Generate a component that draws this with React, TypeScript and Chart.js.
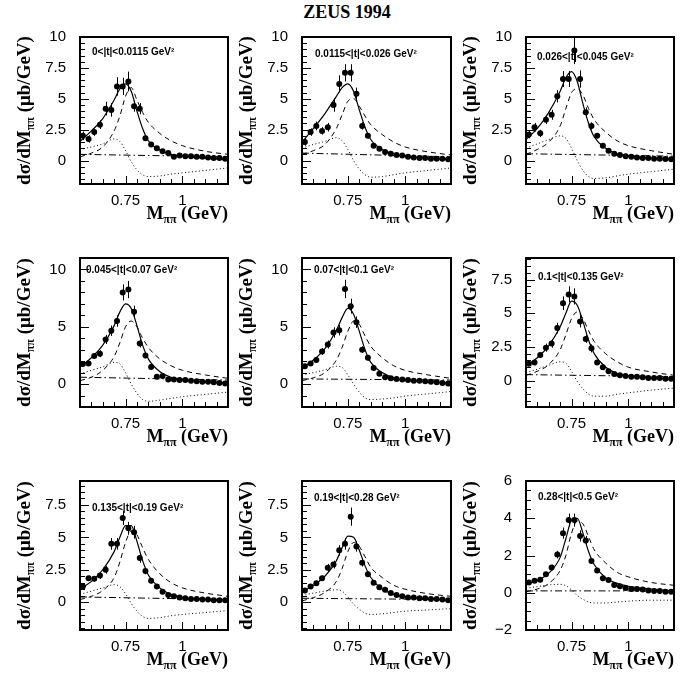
import React, { useEffect, useRef } from "react";
import { Chart, registerables } from "chart.js";
Chart.register(...registerables);

// ---------- shared data ----------
const MASS = [0.5625, 0.5875, 0.6125, 0.6375, 0.6625, 0.6875, 0.7125, 0.7375, 0.7625, 0.7875, 0.8125, 0.8375, 0.8625, 0.8875, 0.9125, 0.9375, 0.9625, 0.9875, 1.0125, 1.0375, 1.0625, 1.0875, 1.1125, 1.1375, 1.1625, 1.1875];
const CURVE_M = [0.55, 0.6, 0.65, 0.7, 0.725, 0.75, 0.775, 0.8, 0.825, 0.85, 0.9, 0.95, 1.0, 1.1, 1.2];
const BG_M = [0.55, 1.2];
const X_TICKS = [0.75, 1];
const X_TICK_LABELS = ["0.75", "1"];

// ---------- panel 1 ----------
const P1_LABEL = "0<|t|<0.0115 GeV²";
const P1_Y = [2.0, 1.75, 2.3, 2.9, 4.2, 4.1, 6.0, 6.0, 6.4, 4.4, 4.2, 1.8, 1.3, 1.0, 0.75, 0.6, 0.3, 0.4, 0.35, 0.35, 0.3, 0.3, 0.25, 0.2, 0.2, 0.15];
const P1_ERR = [0.35, 0.3, 0.3, 0.35, 0.55, 0.55, 0.75, 0.7, 0.8, 0.45, 0.45, 0.2, 0.15, 0.12, 0.1, 0.1, 0.08, 0.08, 0.08, 0.07, 0.07, 0.07, 0.06, 0.06, 0.06, 0.05];
const P1_FIT = [1.55, 2.4, 3.4, 4.9, 5.8, 6.2, 5.6, 4.0, 2.6, 1.6, 0.85, 0.5, 0.35, 0.2, 0.1];
const P1_BW = [0.3, 0.6, 1.1, 2.4, 3.6, 5.2, 5.9, 4.9, 3.9, 3.1, 2.2, 1.6, 1.2, 0.75, 0.5];
const P1_INT = [0.9, 1.1, 1.35, 1.75, 1.55, 0.8, -0.1, -0.75, -1.15, -1.3, -1.25, -1.1, -1.0, -0.8, -0.6];
const P1_BG = [0.5, 0.3];
const P1_YTICKS = [0, 2.5, 5, 7.5, 10];
const P1_YLABELS = ["0", "2.5", "5", "7.5", "10"];

// ---------- panel 2 ----------
const P2_LABEL = "0.0115<|t|<0.026 GeV²";
const P2_Y = [1.5, 2.3, 2.8, 2.4, 2.7, 4.5, 6.2, 7.1, 7.1, 5.4, 2.8, 2.0, 1.2, 0.95, 0.7, 0.55, 0.45, 0.4, 0.3, 0.25, 0.2, 0.2, 0.15, 0.15, 0.15, 0.1];
const P2_ERR = [0.3, 0.3, 0.35, 0.3, 0.35, 0.55, 0.7, 0.7, 0.7, 0.5, 0.3, 0.2, 0.15, 0.12, 0.1, 0.1, 0.08, 0.08, 0.08, 0.07, 0.07, 0.07, 0.06, 0.06, 0.06, 0.05];
const P2_FIT = [1.5, 2.6, 3.8, 5.2, 5.9, 6.2, 5.6, 4.1, 2.7, 1.7, 0.9, 0.55, 0.35, 0.2, 0.1];
const P2_BW = [0.5, 0.8, 1.3, 2.6, 3.7, 4.8, 5.0, 4.4, 3.6, 2.9, 2.1, 1.5, 1.1, 0.7, 0.45];
const P2_INT = [1.0, 1.3, 1.55, 1.85, 1.6, 0.9, 0.0, -0.7, -1.15, -1.35, -1.3, -1.15, -1.0, -0.8, -0.6];
const P2_BG = [0.6, 0.3];
const P2_YTICKS = [0, 2.5, 5, 7.5, 10];
const P2_YLABELS = ["0", "2.5", "5", "7.5", "10"];

// ---------- panel 3 ----------
const P3_LABEL = "0.026<|t|<0.045 GeV²";
const P3_Y = [2.1, 2.7, 2.2, 3.3, 3.7, 5.2, 6.6, 6.6, 8.9, 6.6, 3.9, 2.8, 2.0, 1.2, 0.8, 0.55, 0.45, 0.35, 0.3, 0.25, 0.2, 0.2, 0.15, 0.15, 0.12, 0.1];
const P3_ERR = [0.3, 0.35, 0.3, 0.35, 0.4, 0.5, 0.65, 0.65, 1.1, 0.7, 0.4, 0.3, 0.2, 0.15, 0.1, 0.1, 0.08, 0.08, 0.08, 0.07, 0.07, 0.07, 0.06, 0.06, 0.06, 0.05];
const P3_FIT = [1.7, 2.6, 3.9, 5.6, 6.7, 7.2, 6.4, 4.6, 3.0, 1.9, 1.0, 0.55, 0.35, 0.2, 0.1];
const P3_BW = [0.5, 0.9, 1.5, 2.8, 4.2, 5.5, 5.8, 5.3, 4.2, 3.3, 2.3, 1.6, 1.2, 0.8, 0.5];
const P3_INT = [1.0, 1.35, 1.7, 2.0, 1.8, 1.0, 0.0, -0.8, -1.3, -1.45, -1.4, -1.25, -1.1, -0.9, -0.7];
const P3_BG = [0.55, 0.35];
const P3_YTICKS = [0, 2.5, 5, 7.5, 10];
const P3_YLABELS = ["0", "2.5", "5", "7.5", "10"];

// ---------- panel 4 ----------
const P4_LABEL = "0.045<|t|<0.07 GeV²";
const P4_Y = [1.75, 1.8, 2.45, 2.65, 3.9, 4.65, 5.5, 8.0, 8.25, 6.3, 3.55, 2.5, 1.5, 0.65, 0.7, 0.4, 0.4, 0.35, 0.35, 0.3, 0.25, 0.2, 0.2, 0.15, 0.1, 0.05];
const P4_ERR = [0.2, 0.2, 0.25, 0.3, 0.4, 0.45, 0.5, 0.7, 0.75, 0.55, 0.35, 0.25, 0.15, 0.2, 0.12, 0.1, 0.08, 0.08, 0.08, 0.07, 0.07, 0.07, 0.06, 0.06, 0.06, 0.05];
const P4_FIT = [1.5, 2.3, 3.4, 5.1, 6.3, 7.0, 6.6, 5.1, 3.4, 2.2, 1.1, 0.6, 0.4, 0.2, 0.1];
const P4_BW = [0.3, 0.6, 1.2, 2.4, 3.6, 5.0, 5.5, 5.0, 4.0, 3.2, 2.2, 1.6, 1.2, 0.8, 0.5];
const P4_INT = [0.9, 1.2, 1.5, 1.9, 1.75, 1.0, 0.0, -0.8, -1.35, -1.5, -1.4, -1.25, -1.1, -0.9, -0.7];
const P4_BG = [0.6, 0.35];
const P4_YTICKS = [0, 5, 10];
const P4_YLABELS = ["0", "5", "10"];

// ---------- panel 5 ----------
const P5_LABEL = "0.07<|t|<0.1 GeV²";
const P5_Y = [1.55, 1.8, 2.1, 2.85, 3.45, 4.5, 4.7, 8.3, 6.8, 5.4, 3.0, 2.3, 1.4, 0.9, 0.6, 0.5, 0.45, 0.4, 0.35, 0.3, 0.3, 0.25, 0.2, 0.15, 0.1, 0.05];
const P5_ERR = [0.2, 0.2, 0.25, 0.3, 0.35, 0.45, 0.45, 0.8, 0.65, 0.5, 0.3, 0.25, 0.15, 0.12, 0.1, 0.1, 0.08, 0.08, 0.08, 0.07, 0.07, 0.07, 0.06, 0.06, 0.06, 0.05];
const P5_FIT = [1.4, 2.1, 3.1, 4.7, 5.8, 6.6, 6.1, 4.6, 3.0, 1.9, 1.0, 0.55, 0.35, 0.2, 0.1];
const P5_BW = [0.3, 0.55, 1.0, 2.1, 3.2, 4.6, 5.5, 5.2, 4.2, 3.3, 2.3, 1.6, 1.2, 0.8, 0.5];
const P5_INT = [0.8, 1.0, 1.25, 1.55, 1.45, 0.8, 0.0, -0.7, -1.2, -1.35, -1.3, -1.2, -1.05, -0.85, -0.65];
const P5_BG = [0.45, 0.35];
const P5_YTICKS = [0, 5, 10];
const P5_YLABELS = ["0", "5", "10"];

// ---------- panel 6 ----------
const P6_LABEL = "0.1<|t|<0.135 GeV²";
const P6_Y = [1.25, 1.35, 1.9, 2.45, 2.75, 3.9, 5.75, 6.4, 6.25, 4.4, 3.1, 2.4, 1.35, 1.0, 0.7, 0.5, 0.4, 0.35, 0.3, 0.3, 0.25, 0.2, 0.2, 0.2, 0.15, 0.15];
const P6_ERR = [0.15, 0.2, 0.2, 0.3, 0.3, 0.4, 0.5, 0.6, 0.6, 0.45, 0.3, 0.3, 0.15, 0.12, 0.1, 0.1, 0.08, 0.08, 0.08, 0.07, 0.07, 0.07, 0.06, 0.06, 0.06, 0.05];
const P6_FIT = [1.1, 1.7, 2.6, 4.0, 5.0, 5.9, 5.6, 4.4, 3.0, 2.0, 1.0, 0.55, 0.35, 0.2, 0.1];
const P6_BW = [0.4, 0.7, 1.2, 2.3, 3.4, 4.6, 5.1, 4.6, 3.7, 2.9, 2.0, 1.4, 1.0, 0.65, 0.4];
const P6_INT = [0.6, 0.85, 1.15, 1.4, 1.3, 0.7, -0.05, -0.6, -1.0, -1.15, -1.15, -1.0, -0.9, -0.7, -0.55];
const P6_BG = [0.45, 0.3];
const P6_YTICKS = [0, 2.5, 5, 7.5];
const P6_YLABELS = ["0", "2.5", "5", "7.5"];

// ---------- panel 7 ----------
const P7_LABEL = "0.135<|t|<0.19 GeV²";
const P7_Y = [1.2, 1.85, 1.8, 2.05, 2.5, 4.5, 4.5, 6.5, 5.7, 5.4, 3.4, 2.4, 1.65, 1.2, 0.8, 0.55, 0.45, 0.35, 0.3, 0.25, 0.25, 0.2, 0.2, 0.15, 0.15, 0.15];
const P7_ERR = [0.15, 0.2, 0.2, 0.25, 0.3, 0.45, 0.45, 0.55, 0.5, 0.5, 0.35, 0.25, 0.2, 0.15, 0.1, 0.1, 0.08, 0.08, 0.08, 0.07, 0.07, 0.07, 0.06, 0.06, 0.06, 0.05];
const P7_FIT = [1.0, 1.6, 2.5, 3.9, 5.0, 5.9, 5.9, 4.7, 3.2, 2.1, 1.1, 0.6, 0.35, 0.2, 0.1];
const P7_BW = [0.2, 0.45, 0.9, 1.9, 3.1, 4.6, 5.5, 5.2, 4.2, 3.3, 2.2, 1.5, 1.1, 0.7, 0.45];
const P7_INT = [0.6, 0.85, 1.1, 1.35, 1.2, 0.65, -0.1, -0.7, -1.1, -1.25, -1.2, -1.05, -0.95, -0.8, -0.65];
const P7_BG = [0.4, 0.2];
const P7_YTICKS = [0, 2.5, 5, 7.5];
const P7_YLABELS = ["0", "2.5", "5", "7.5"];

// ---------- panel 8 ----------
const P8_LABEL = "0.19<|t|<0.28 GeV²";
const P8_Y = [0.9, 1.2, 1.45, 1.85, 2.65, 2.9, 4.0, 4.5, 6.6, 4.3, 3.05, 2.15, 1.5, 1.15, 0.95, 0.7, 0.55, 0.45, 0.35, 0.35, 0.3, 0.3, 0.25, 0.25, 0.2, 0.15];
const P8_ERR = [0.12, 0.15, 0.15, 0.2, 0.3, 0.3, 0.4, 0.45, 0.7, 0.4, 0.3, 0.2, 0.15, 0.1, 0.1, 0.1, 0.08, 0.08, 0.08, 0.07, 0.07, 0.07, 0.06, 0.06, 0.06, 0.05];
const P8_FIT = [0.8, 1.3, 2.0, 3.2, 4.2, 5.1, 5.0, 4.0, 2.8, 1.9, 1.0, 0.6, 0.4, 0.25, 0.15];
const P8_BW = [0.1, 0.35, 0.75, 1.6, 2.6, 3.9, 4.6, 4.3, 3.5, 2.7, 1.9, 1.3, 1.0, 0.65, 0.45];
const P8_INT = [0.5, 0.7, 0.85, 0.95, 0.85, 0.4, -0.15, -0.55, -0.85, -0.95, -0.9, -0.8, -0.7, -0.6, -0.5];
const P8_BG = [0.3, 0.2];
const P8_YTICKS = [0, 2.5, 5, 7.5];
const P8_YLABELS = ["0", "2.5", "5", "7.5"];

// ---------- panel 9 ----------
const P9_LABEL = "0.28<|t|<0.5 GeV²";
const P9_Y = [0.55, 0.65, 0.7, 1.0, 1.35, 2.05, 3.2, 3.9, 3.9, 3.05, 2.8, 1.7, 1.2, 0.78, 0.68, 0.42, 0.35, 0.25, 0.2, 0.2, 0.18, 0.12, 0.1, 0.1, 0.06, 0.05];
const P9_ERR = [0.08, 0.1, 0.1, 0.12, 0.15, 0.2, 0.3, 0.35, 0.35, 0.3, 0.25, 0.15, 0.12, 0.1, 0.08, 0.07, 0.06, 0.06, 0.05, 0.05, 0.05, 0.05, 0.05, 0.05, 0.05, 0.05];
const P9_FIT = [0.45, 0.65, 1.05, 1.9, 2.9, 3.9, 4.0, 3.2, 2.2, 1.5, 0.8, 0.5, 0.35, 0.2, 0.1];
const P9_BW = [0.05, 0.2, 0.5, 1.2, 2.0, 3.2, 3.85, 3.7, 3.0, 2.3, 1.6, 1.1, 0.85, 0.55, 0.4];
const P9_INT = [0.25, 0.33, 0.42, 0.45, 0.38, 0.15, -0.15, -0.35, -0.5, -0.55, -0.55, -0.5, -0.45, -0.4, -0.4];
const P9_BG = [0.1, 0.1];
const P9_YTICKS = [-2, 0, 2, 4, 6];
const P9_YLABELS = ["−2", "0", "2", "4", "6"];

// ---------- layout (styles, not data) ----------
const FRAME_L = [80, 302, 526];
const FRAME_W = [148, 149, 148];
const FRAME_T = [37, 258, 481];
const FRAME_H = [147, 149, 149];

type Panel = {
  label: string; y: number[]; err: number[]; fit: number[]; bw: number[]; intf: number[]; bg: number[];
  yticks: number[]; ylabels: string[]; ymin: number; ymax: number; minor: number;
  col: number; row: number; ldx: number; ldy: number;
};

const PANELS: Panel[] = [
  { label: P1_LABEL, y: P1_Y, err: P1_ERR, fit: P1_FIT, bw: P1_BW, intf: P1_INT, bg: P1_BG, yticks: P1_YTICKS, ylabels: P1_YLABELS, ymin: -1.9, ymax: 10, minor: 0.5, col: 0, row: 0, ldx: 12, ldy: 15 },
  { label: P2_LABEL, y: P2_Y, err: P2_ERR, fit: P2_FIT, bw: P2_BW, intf: P2_INT, bg: P2_BG, yticks: P2_YTICKS, ylabels: P2_YLABELS, ymin: -1.9, ymax: 10, minor: 0.5, col: 1, row: 0, ldx: 13, ldy: 17 },
  { label: P3_LABEL, y: P3_Y, err: P3_ERR, fit: P3_FIT, bw: P3_BW, intf: P3_INT, bg: P3_BG, yticks: P3_YTICKS, ylabels: P3_YLABELS, ymin: -1.9, ymax: 10, minor: 0.5, col: 2, row: 0, ldx: 11, ldy: 20 },
  { label: P4_LABEL, y: P4_Y, err: P4_ERR, fit: P4_FIT, bw: P4_BW, intf: P4_INT, bg: P4_BG, yticks: P4_YTICKS, ylabels: P4_YLABELS, ymin: -2, ymax: 11, minor: 1, col: 0, row: 1, ldx: 6, ldy: 12 },
  { label: P5_LABEL, y: P5_Y, err: P5_ERR, fit: P5_FIT, bw: P5_BW, intf: P5_INT, bg: P5_BG, yticks: P5_YTICKS, ylabels: P5_YLABELS, ymin: -2, ymax: 11, minor: 1, col: 1, row: 1, ldx: 12, ldy: 12 },
  { label: P6_LABEL, y: P6_Y, err: P6_ERR, fit: P6_FIT, bw: P6_BW, intf: P6_INT, bg: P6_BG, yticks: P6_YTICKS, ylabels: P6_YLABELS, ymin: -1.95, ymax: 9.1, minor: 0.5, col: 2, row: 1, ldx: 12, ldy: 19 },
  { label: P7_LABEL, y: P7_Y, err: P7_ERR, fit: P7_FIT, bw: P7_BW, intf: P7_INT, bg: P7_BG, yticks: P7_YTICKS, ylabels: P7_YLABELS, ymin: -2.15, ymax: 9.35, minor: 0.5, col: 0, row: 2, ldx: 12, ldy: 27 },
  { label: P8_LABEL, y: P8_Y, err: P8_ERR, fit: P8_FIT, bw: P8_BW, intf: P8_INT, bg: P8_BG, yticks: P8_YTICKS, ylabels: P8_YLABELS, ymin: -2.15, ymax: 9.35, minor: 0.5, col: 1, row: 2, ldx: 12, ldy: 17 },
  { label: P9_LABEL, y: P9_Y, err: P9_ERR, fit: P9_FIT, bw: P9_BW, intf: P9_INT, bg: P9_BG, yticks: P9_YTICKS, ylabels: P9_YLABELS, ymin: -2, ymax: 6, minor: 0.5, col: 2, row: 2, ldx: 12, ldy: 16 },
];

const PAD_L = 22, AXIS_W = 50, PAD_T = 14, PAD_R = 8, AXIS_H = 44;
const SERIF = "'Liberation Serif', 'Times New Roman', serif";
const SANS = "'Liberation Sans', Arial, sans-serif";

function drawSubText(ctx: CanvasRenderingContext2D, parts: { t: string; sub?: boolean }[], x: number, y: number, align: "center" | "right", size: number) {
  const main = `bold ${size}px ${SERIF}`;
  const sub = `bold ${Math.round(size * 0.65)}px ${SERIF}`;
  let total = 0;
  const widths = parts.map((p) => { ctx.font = p.sub ? sub : main; const w = ctx.measureText(p.t).width; total += w; return w; });
  let cx = align === "center" ? x - total / 2 : x - total;
  ctx.textAlign = "left";
  ctx.textBaseline = "alphabetic";
  parts.forEach((p, i) => {
    ctx.font = p.sub ? sub : main;
    ctx.fillText(p.t, cx, p.sub ? y + 4 : y);
    cx += widths[i];
  });
}

function drawFrame(chart: any, p: Panel) {
  const { ctx, scales, chartArea } = chart;
  const xs = scales.x, ys = scales.y;
  const L = Math.round(chartArea.left), R = Math.round(chartArea.right);
  const T = Math.round(chartArea.top), B = Math.round(chartArea.bottom);
  ctx.save();
  ctx.fillStyle = "#000";
  ctx.fillRect(L - 1, T - 1, R - L + 2, 2);
  ctx.fillRect(L - 1, B - 1, R - L + 2, 2);
  ctx.fillRect(L - 1, T - 1, 2, B - T + 2);
  ctx.fillRect(R - 1, T - 1, 2, B - T + 2);
  for (let k = Math.ceil(p.ymin / p.minor - 1e-9); k * p.minor <= p.ymax + 1e-9; k++) {
    const v = k * p.minor;
    const major = p.yticks.some((t) => Math.abs(t - v) < 1e-6);
    const py = Math.round(ys.getPixelForValue(v));
    ctx.fillRect(L, py, major ? 9 : 5, 1);
  }
  for (let k = 11; k <= 24; k++) {
    const v = k * 0.05;
    const major = X_TICKS.some((t) => Math.abs(t - v) < 1e-6);
    const px = Math.round(xs.getPixelForValue(v));
    const len = major ? 8 : 5;
    ctx.fillRect(px, B - len, 1, len);
  }
  ctx.restore();
}

function PanelChart({ p }: { p: Panel }) {
  const ref = useRef<HTMLCanvasElement | null>(null);
  const fl = FRAME_L[p.col], fw = FRAME_W[p.col], ft = FRAME_T[p.row], fh = FRAME_H[p.row];
  const cw = fw + PAD_L + AXIS_W + PAD_R;
  const chh = fh + PAD_T + AXIS_H;
  const left = fl - PAD_L - AXIS_W;
  const top = ft - PAD_T;

  useEffect(() => {
    if (!ref.current) return;
    const plugin = {
      id: "zeusPanel",
      beforeDatasetsDraw(chart: any) {
        const { ctx, scales, chartArea } = chart;
        const xs = scales.x, ys = scales.y;
        drawFrame(chart, p);
        ctx.save();
        ctx.fillStyle = "#000";
        p.y.forEach((v, i) => {
          const px = Math.round(xs.getPixelForValue(MASS[i]));
          const y1 = Math.max(chartArea.top, ys.getPixelForValue(v + p.err[i]));
          const y2 = Math.min(chartArea.bottom, ys.getPixelForValue(v - p.err[i]));
          ctx.fillRect(px, y1, 1, y2 - y1);
        });
        ctx.font = `bold 10px ${SANS}`;
        ctx.textAlign = "left";
        ctx.textBaseline = "middle";
        ctx.fillText(p.label, chartArea.left + p.ldx, chartArea.top + p.ldy);
        ctx.restore();
      },
      afterDraw(chart: any) {
        const { ctx, chartArea } = chart;
        const L = chartArea.left, R = chartArea.right, T = chartArea.top, B = chartArea.bottom;
        ctx.save();
        ctx.fillStyle = "#000";
        drawSubText(ctx, [{ t: "M" }, { t: "ππ", sub: true }, { t: " (GeV)" }], R, B + 35, "right", 18);
        ctx.translate(L - 56, (T + B) / 2);
        ctx.rotate(-Math.PI / 2);
        drawSubText(ctx, [{ t: "dσ/dM" }, { t: "ππ", sub: true }, { t: " (μb/GeV)" }], 0, 6, "center", 19);
        ctx.restore();
      },
    };

    const chart = new Chart(ref.current, {
      type: "line",
      data: {
        datasets: [
          {
            data: MASS.map((m, i) => ({ x: m, y: p.y[i] })),
            showLine: false,
            pointRadius: 3,
            pointBackgroundColor: "#000",
            pointBorderColor: "#000",
            pointBorderWidth: 0,
          },
          {
            data: CURVE_M.map((m, i) => ({ x: m, y: p.fit[i] })),
            borderColor: "#000",
            borderWidth: 1.2,
            pointRadius: 0,
            cubicInterpolationMode: "monotone",
          },
          {
            data: CURVE_M.map((m, i) => ({ x: m, y: p.bw[i] })),
            borderColor: "#000",
            borderWidth: 1,
            borderDash: [5, 4],
            pointRadius: 0,
            cubicInterpolationMode: "monotone",
          },
          {
            data: CURVE_M.map((m, i) => ({ x: m, y: p.intf[i] })),
            borderColor: "#000",
            borderWidth: 1,
            borderDash: [1, 2.5],
            pointRadius: 0,
            cubicInterpolationMode: "monotone",
          },
          {
            data: BG_M.map((m, i) => ({ x: m, y: p.bg[i] })),
            borderColor: "#000",
            borderWidth: 1,
            borderDash: [7, 3, 1.5, 3],
            pointRadius: 0,
          },
        ],
      } as any,
      options: {
        animation: false,
        responsive: false,
        events: [],
        layout: { padding: { left: PAD_L, top: PAD_T, right: PAD_R, bottom: 0 } },
        plugins: { legend: { display: false }, tooltip: { enabled: false } },
        scales: {
          x: {
            type: "linear",
            min: 0.55,
            max: 1.2,
            grid: { display: false, drawTicks: false },
            border: { display: false },
            afterBuildTicks: (s: any) => { s.ticks = X_TICKS.map((v) => ({ value: v })); },
            afterFit: (s: any) => { s.height = AXIS_H; s.paddingLeft = 0; s.paddingRight = 0; s.paddingTop = 0; s.paddingBottom = 0; },
            ticks: {
              autoSkip: false,
              maxRotation: 0,
              padding: 8,
              color: "#000",
              font: { family: SANS, size: 15 },
              callback: (_v: any, i: number) => X_TICK_LABELS[i],
            },
          },
          y: {
            type: "linear",
            min: p.ymin,
            max: p.ymax,
            grid: { display: false, drawTicks: false },
            border: { display: false },
            afterBuildTicks: (s: any) => { s.ticks = p.yticks.map((v) => ({ value: v })); },
            afterFit: (s: any) => { s.width = AXIS_W; s.paddingTop = 0; s.paddingBottom = 0; s.paddingLeft = 0; s.paddingRight = 0; },
            ticks: {
              autoSkip: false,
              padding: 14,
              color: "#000",
              font: { family: SANS, size: 15 },
              callback: (_v: any, i: number) => p.ylabels[i],
            },
          },
        },
      } as any,
      plugins: [plugin],
    });
    return () => chart.destroy();
  }, []);

  return (
    <canvas
      ref={ref}
      width={cw}
      height={chh}
      style={{ position: "absolute", left, top, width: cw, height: chh }}
    />
  );
}

export default function App() {
  return (
    <div style={{ position: "absolute", left: 0, top: 0, width: 694, height: 675, overflow: "hidden", background: "#fff" }}>
      <div
        style={{
          position: "absolute",
          left: 347,
          top: 0,
          transform: "translateX(-50%)",
          whiteSpace: "nowrap",
          font: `bold 18px ${SERIF}`,
          lineHeight: "24px",
        }}
      >
        ZEUS 1994
      </div>
      {PANELS.map((p, i) => (
        <PanelChart key={i} p={p} />
      ))}
    </div>
  );
}
